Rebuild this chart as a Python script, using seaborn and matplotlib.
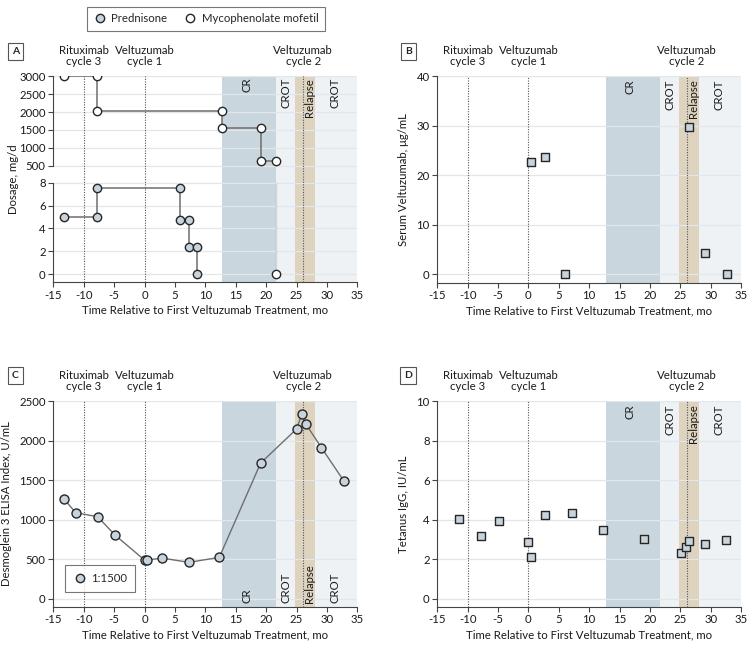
import matplotlib
matplotlib.use("Agg")
import matplotlib.pyplot as plt
from matplotlib.lines import Line2D
import seaborn as sns
import pandas as pd

sns.set_theme(style="white")
plt.rcParams["font.family"] = ["Lato", "DejaVu Sans"]
plt.rcParams["axes.unicode_minus"] = False

# ---- data ----
# panel A: dosages (step sequences)
pred_x = [-13.2, -7.8, -7.8, 5.9, 5.9, 7.3, 7.3, 8.7, 8.7]
pred_y = [5, 5, 7.5, 7.5, 4.7, 4.7, 2.4, 2.4, 0]
mmf_x = [-13.2, -7.8, -7.8, 12.7, 12.7, 19.1, 19.1, 21.7]
mmf_y = [3000, 3000, 2030, 2030, 1565, 1565, 620, 620]
mmf_stop_x = 21.7
mmf_stop_y = 0

# panel B: serum veltuzumab
vel_x = [0.4, 2.7, 6.0, 26.5, 29.0, 32.7]
vel_y = [22.6, 23.7, 0, 29.8, 4.2, 0]

# panel C: desmoglein 3 ELISA
dsg_x = [-13.2, -11.3, -7.7, -4.9, 0.0, 0.35, 2.9, 7.3, 12.3, 19.1, 25.0, 25.9, 26.5, 29.1, 32.8]
dsg_y = [1256, 1088, 1037, 809, 489, 489, 514, 460, 523, 1716, 2146, 2340, 2213, 1910, 1488]

# panel D: tetanus IgG
tet_x = [-11.4, -7.8, -4.9, 0.0, 0.5, 2.7, 7.2, 12.2, 19.1, 25.1, 26.0, 26.5, 29.0, 32.6]
tet_y = [4.01, 3.19, 3.93, 2.87, 2.12, 4.23, 4.33, 3.46, 3.04, 2.33, 2.61, 2.90, 2.75, 2.95]

# treatment events and clinical phases
events_x = [-10, 0, 26.1]
events_lbl = ["Rituximab\ncycle 3", "Veltuzumab\ncycle 1", "Veltuzumab\ncycle 2"]
phase_start = [12.7, 21.7, 24.8, 28.0]
phase_end = [21.7, 24.8, 28.0, 35]
phase_lbl = ["CR", "CROT", "Relapse", "CROT"]
phase_txt_x = [16.8, 23.3, 27.1, 31.3]
phase_col = ["#c9d6de", "#eef2f5", "#ddd3bf", "#eef2f5"]

XLAB = "Time Relative to First Veltuzumab Treatment, mo"
GREY_FILL = "#c8d3dc"
EDGE = "#262626"
LINE = "#6e6e6e"
GRID = "#e3e7ea"
TXT = "#1a1a1a"
FS = 8.2

fig = plt.figure(figsize=(7.54, 6.48), dpi=100)


def background(ax, ylo, yhi, grid_ticks, phase_text=None):
    for s, e, c in zip(phase_start, phase_end, phase_col):
        ax.axvspan(s, e, color=c, lw=0, zorder=0)
    for t in grid_ticks:
        ax.axhline(t, color=GRID, lw=0.9, zorder=0.5)
    for x in events_x:
        ax.axvline(x, color="#555555", lw=0.8, ls=(0, (1, 1.3)), zorder=1)
    if phase_text is not None:
        for x, lbl in zip(phase_txt_x, phase_lbl):
            if phase_text == "top":
                ax.text(x, 0.985, lbl, rotation=90, ha="center", va="top",
                        transform=ax.get_xaxis_transform(), fontsize=FS, color=TXT)
            else:
                ax.text(x, 0.02, lbl, rotation=90, ha="center", va="bottom",
                        transform=ax.get_xaxis_transform(), fontsize=FS, color=TXT)
    ax.set_xlim(-15, 35)
    ax.set_ylim(ylo, yhi)
    ax.set_yticks(grid_ticks)
    for sp in ["top", "right"]:
        ax.spines[sp].set_visible(False)
    for sp in ["left", "bottom"]:
        ax.spines[sp].set_color("#444444")
        ax.spines[sp].set_linewidth(0.8)
    ax.tick_params(axis="both", which="both", length=3.5, width=0.8, color="#444444",
                   labelsize=FS, labelcolor=TXT, pad=2, left=True, bottom=True)


def events_above(ax):
    for x, lbl in zip(events_x, events_lbl):
        ax.annotate(lbl, xy=(x, 1), xycoords=ax.get_xaxis_transform(),
                    xytext=(0, 6.5), textcoords="offset points", ha="center", va="bottom",
                    fontsize=FS, linespacing=1.05, color=TXT)


def panel_letter(x, y, letter):
    fig.text(x, y, letter, ha="center", va="center", fontsize=7.5, fontweight="bold",
             bbox=dict(boxstyle="square,pad=0.4", fc="white", ec="#555555", lw=0.8))


# ---- panel A (broken y-axis) ----
axA1 = fig.add_axes([0.0707, 0.7315, 0.4032, 0.1508])
axA2 = fig.add_axes([0.0707, 0.5648, 0.4032, 0.1667], sharex=axA1)
background(axA1, 268, 3000, [500, 1000, 1500, 2000, 2500, 3000], phase_text="top")
background(axA2, -0.7, 8.76, [0, 2, 4, 6, 8])
axA1.spines["bottom"].set_visible(False)
axA1.tick_params(axis="x", bottom=False, labelbottom=False)
axA1.spines["left"].set_bounds(500, 3000)
axA2.spines["left"].set_bounds(-0.7, 8)
axA2.set_xticks(range(-15, 36, 5))

df_mmf = pd.DataFrame({"x": mmf_x, "y": mmf_y})
sns.lineplot(data=df_mmf, x="x", y="y", sort=False, estimator=None, color=LINE, lw=1.1,
             ax=axA1, zorder=2)
sns.scatterplot(data=df_mmf, x="x", y="y", marker="o", s=36, color="white",
                edgecolor=EDGE, linewidth=1.0, ax=axA1, zorder=3)
sns.lineplot(x=[mmf_stop_x, mmf_stop_x], y=[8, mmf_stop_y], color=LINE, lw=1.1,
             ax=axA2, zorder=2)
sns.scatterplot(x=[mmf_stop_x], y=[mmf_stop_y], marker="o", s=36, color="white",
                edgecolor=EDGE, linewidth=1.0, ax=axA2, zorder=3)
df_pred = pd.DataFrame({"x": pred_x, "y": pred_y})
sns.lineplot(data=df_pred, x="x", y="y", sort=False, estimator=None, color=LINE, lw=1.1,
             ax=axA2, zorder=2)
sns.scatterplot(data=df_pred, x="x", y="y", marker="o", s=36, color=GREY_FILL,
                edgecolor=EDGE, linewidth=1.0, ax=axA2, zorder=3)
events_above(axA1)
for a in (axA1, axA2):
    a.set_xlabel("")
    a.set_ylabel("")
axA2.set_xlabel(XLAB, fontsize=FS, color=TXT, labelpad=3)
fig.text(0.018, 0.7235, "Dosage, mg/d", rotation=90, ha="center", va="center",
         fontsize=FS, color=TXT)

# ---- panel B ----
axB = fig.add_axes([0.58, 0.5637, 0.4028, 0.3185])
background(axB, -1.76, 40, [0, 10, 20, 30, 40], phase_text="top")
sns.scatterplot(x=vel_x, y=vel_y, marker="s", s=32, color=GREY_FILL,
                edgecolor=EDGE, linewidth=1.0, ax=axB, zorder=3)
axB.set_xticks(range(-15, 36, 5))
events_above(axB)
axB.set_xlabel(XLAB, fontsize=FS, color=TXT, labelpad=3)
axB.set_ylabel("Serum Veltuzumab, μg/mL", fontsize=FS, color=TXT, labelpad=5)

# ---- panel C ----
axC = fig.add_axes([0.0707, 0.0637, 0.4032, 0.3174])
background(axC, -101, 2500, [0, 500, 1000, 1500, 2000, 2500], phase_text="bottom")
df_dsg = pd.DataFrame({"x": dsg_x, "y": dsg_y})
sns.lineplot(data=df_dsg, x="x", y="y", sort=False, estimator=None, color=LINE, lw=1.0,
             ax=axC, zorder=2)
sns.scatterplot(data=df_dsg, x="x", y="y", marker="o", s=42, color=GREY_FILL,
                edgecolor=EDGE, linewidth=1.0, ax=axC, zorder=3)
axC.set_xticks(range(-15, 36, 5))
events_above(axC)
axC.set_xlabel(XLAB, fontsize=FS, color=TXT, labelpad=3)
axC.set_ylabel("Desmoglein 3 ELISA Index, U/mL", fontsize=FS, color=TXT, labelpad=5)
hC = [Line2D([], [], ls="none", marker="o", ms=6, mfc=GREY_FILL, mec=EDGE, mew=1.0)]
legC = axC.legend(hC, ["1:1500"], loc="lower left", bbox_to_anchor=(0.038, 0.07),
                  borderaxespad=0, frameon=True, fancybox=False, fontsize=FS,
                  handletextpad=0.4, borderpad=0.7, handlelength=1.2)
legC.get_frame().set_edgecolor("#555555")
legC.get_frame().set_linewidth(0.8)
legC.set_zorder(5)

# ---- panel D ----
axD = fig.add_axes([0.58, 0.0637, 0.4028, 0.3174])
background(axD, -0.405, 10, [0, 2, 4, 6, 8, 10], phase_text="top")
sns.scatterplot(x=tet_x, y=tet_y, marker="s", s=32, color=GREY_FILL,
                edgecolor=EDGE, linewidth=1.0, ax=axD, zorder=3)
axD.set_xticks(range(-15, 36, 5))
events_above(axD)
axD.set_xlabel(XLAB, fontsize=FS, color=TXT, labelpad=3)
axD.set_ylabel("Tetanus IgG, IU/mL", fontsize=FS, color=TXT, labelpad=5)

# ---- top legend ----
handles = [Line2D([], [], ls="none", marker="o", ms=6, mfc=GREY_FILL, mec=EDGE, mew=1.0),
           Line2D([], [], ls="none", marker="o", ms=6, mfc="white", mec=EDGE, mew=1.0)]
leg = fig.legend(handles, ["Prednisone", "Mycophenolate mofetil"], loc="center",
                 bbox_to_anchor=(0.273, 0.971), ncol=2, frameon=True, fancybox=False,
                 fontsize=FS, handletextpad=0.4, columnspacing=1.4, handlelength=1.2,
                 borderpad=0.55)
leg.get_frame().set_edgecolor("#555555")
leg.get_frame().set_linewidth(0.8)

panel_letter(0.0205, 0.9205, "A")
panel_letter(0.5415, 0.9205, "B")
panel_letter(0.0205, 0.4205, "C")
panel_letter(0.5415, 0.4205, "D")

fig.savefig("out.png", dpi=100, facecolor="white")
